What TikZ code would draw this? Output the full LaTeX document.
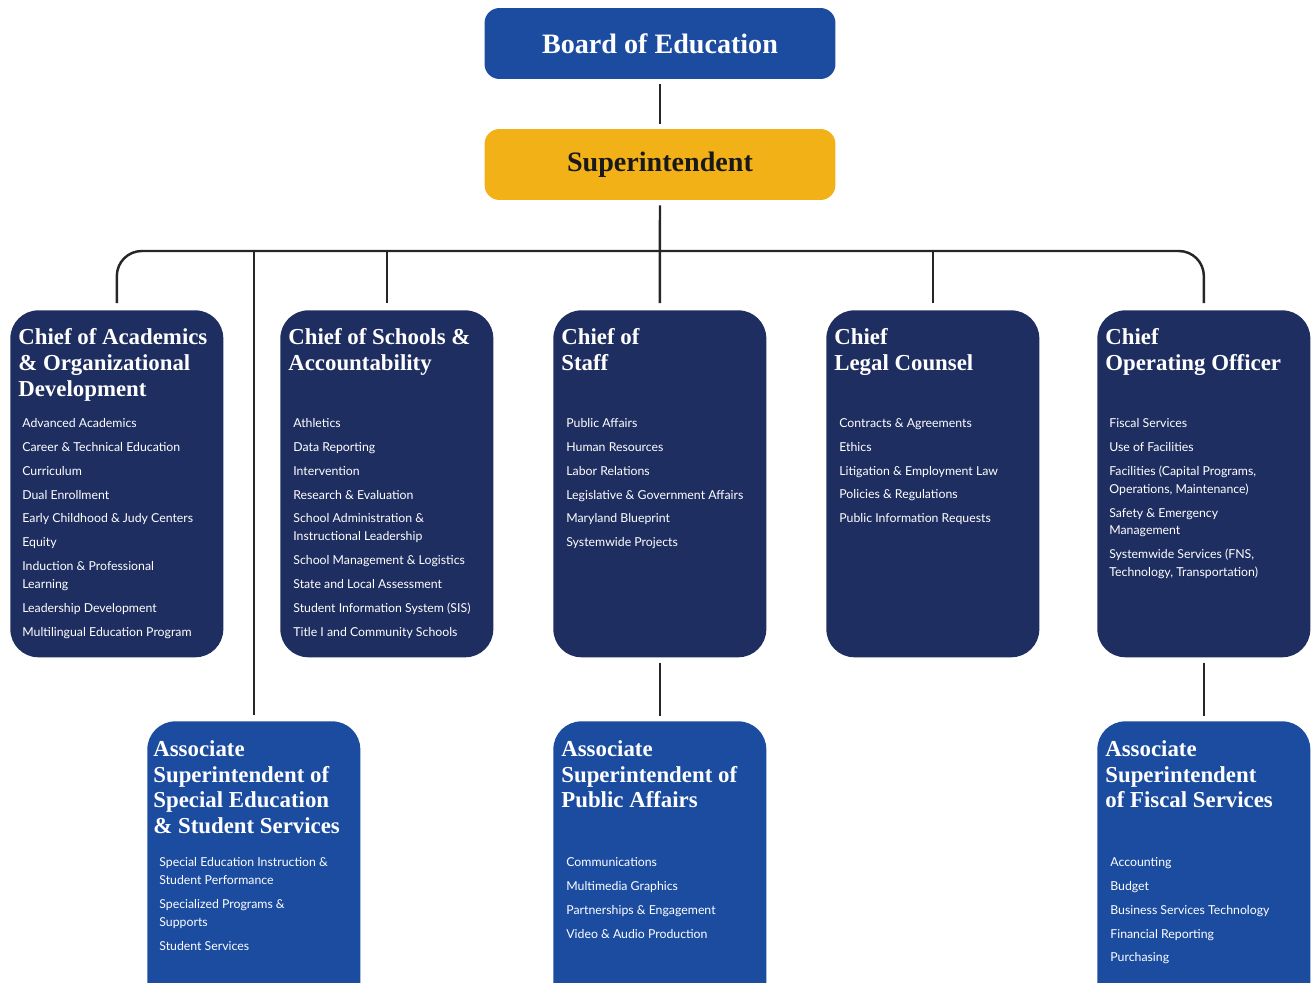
\documentclass[tikz,border=0pt]{standalone}
\usepackage{fontspec}
\setmainfont{Lato}
\newfontfamily\headfont{Liberation Serif}
\usetikzlibrary{positioning}
\definecolor{boardblue}{RGB}{27,76,160}
\definecolor{chiefnavy}{RGB}{31,46,96}
\definecolor{supergold}{RGB}{243,177,24}
\begin{document}
\begin{tikzpicture}[x=0.02cm,y=-0.02cm,
  topbox/.style={rounded corners=0.3cm,minimum width=7.02cm,minimum height=1.42cm,inner sep=0pt,font=\headfont\bfseries\fontsize{16}{18}\selectfont},
  chiefbox/.style={fill=chiefnavy,rounded corners=0.56cm,minimum width=4.26cm,minimum height=6.94cm,inner sep=0pt,anchor=north west},
  assocbox/.style={fill=boardblue,rounded corners=0.56cm,minimum width=4.26cm,minimum height=5.9cm,inner sep=0pt,anchor=north west},
  boxtitle/.style={anchor=north west,inner sep=0pt,align=left,text=white,font=\headfont\bfseries\fontsize{13}{14.7}\selectfont},
  boxitems/.style={anchor=north west,inner sep=0pt,align=left,text=white,font=\fontsize{7}{13.6}\selectfont},
  link/.style={line width=1.4pt,black!85}]
\clip (0,0) rectangle (1311,983);
% top of the chart
\node[topbox,fill=boardblue,text=white] (board) at (660,43.5) {Board of Education};
\node[topbox,fill=supergold,text=black!90] (super) at (660,164.5) {Superintendent};
% chiefs
\node[chiefbox] (acad) at (10,310) {};
\node[boxtitle] (acadT) at (18,328) {Chief of Academics\\\& Organizational\\Development};
\node[boxitems] (acadL) at (22,418) {Advanced Academics\\Career \& Technical Education\\Curriculum\\Dual Enrollment\\Early Childhood \& Judy Centers\\Equity\\Induction \& Professional\\[-3.4pt]Learning\\Leadership Development\\Multilingual Education Program};
\node[chiefbox] (schools) at (280,310) {};
\node[boxtitle] (schoolsT) at (288,328) {Chief of Schools \&\\Accountability};
\node[boxitems] (schoolsL) at (293,418) {Athletics\\Data Reporting\\Intervention\\Research \& Evaluation\\School Administration \&\\[-3.4pt]Instructional Leadership\\School Management \& Logistics\\State and Local Assessment\\Student Information System (SIS)\\Title I and Community Schools};
\node[chiefbox] (staff) at (553,310) {};
\node[boxtitle] (staffT) at (561,328) {Chief of\\Staff};
\node[boxitems] (staffL) at (566,418) {Public Affairs\\Human Resources\\Labor Relations\\Legislative \& Government Affairs\\Maryland Blueprint\\Systemwide Projects};
\node[chiefbox] (legal) at (826,310) {};
\node[boxtitle] (legalT) at (834,328) {Chief\\Legal Counsel};
\node[boxitems] (legalL) at (839,418) {Contracts \& Agreements\\Ethics\\Litigation \& Employment Law\\Policies \& Regulations\\Public Information Requests};
\node[chiefbox] (coo) at (1097,310) {};
\node[boxtitle] (cooT) at (1105,328) {Chief\\Operating Officer};
\node[boxitems] (cooL) at (1109,418) {Fiscal Services\\Use of Facilities\\Facilities (Capital Programs,\\[-3.4pt]Operations, Maintenance)\\Safety \& Emergency\\[-3.4pt]Management\\Systemwide Services (FNS,\\[-3.4pt]Technology, Transportation)};
% associate superintendents
\node[assocbox] (special) at (147,721) {};
\node[boxtitle] (specialT) at (153,740) {Associate\\Superintendent of\\Special Education\\\& Student Services};
\node[boxitems] (specialL) at (159,857) {Special Education Instruction \&\\[-3.4pt]Student Performance\\Specialized Programs \&\\[-3.4pt]Supports\\Student Services};
\node[assocbox] (pubaff) at (553,721) {};
\node[boxtitle] (pubaffT) at (561,740) {Associate\\Superintendent of\\Public Affairs};
\node[boxitems] (pubaffL) at (566,857) {Communications\\Multimedia Graphics\\Partnerships \& Engagement\\Video \& Audio Production};
\node[assocbox] (fiscal) at (1097,721) {};
\node[boxtitle] (fiscalT) at (1105,740) {Associate\\Superintendent\\of Fiscal Services};
\node[boxitems] (fiscalL) at (1110,857) {Accounting\\Budget\\Business Services Technology\\Financial Reporting\\Purchasing};
% connectors
\coordinate (bus) at (660,251);
\draw[link,shorten <=0.1cm,shorten >=0.1cm] (board) -- (super);
\draw[link,shorten <=0.1cm,shorten >=0.14cm] (super) -- (staff);
\draw[link,rounded corners=0.5cm,shorten <=0.14cm,shorten >=0.14cm] (acad.north) |- (bus) -| (coo.north);
\draw[link,shorten >=0.14cm] (schools.north |- bus) -- (schools.north);
\draw[link,shorten >=0.14cm] (legal.north |- bus) -- (legal.north);
\draw[link,shorten >=0.12cm] (special.north |- bus) -- (special.north);
\draw[link,shorten <=0.1cm,shorten >=0.1cm] (staff.south) -- (pubaff.north);
\draw[link,shorten <=0.1cm,shorten >=0.1cm] (coo.south) -- (fiscal.north);
\end{tikzpicture}
\end{document}
